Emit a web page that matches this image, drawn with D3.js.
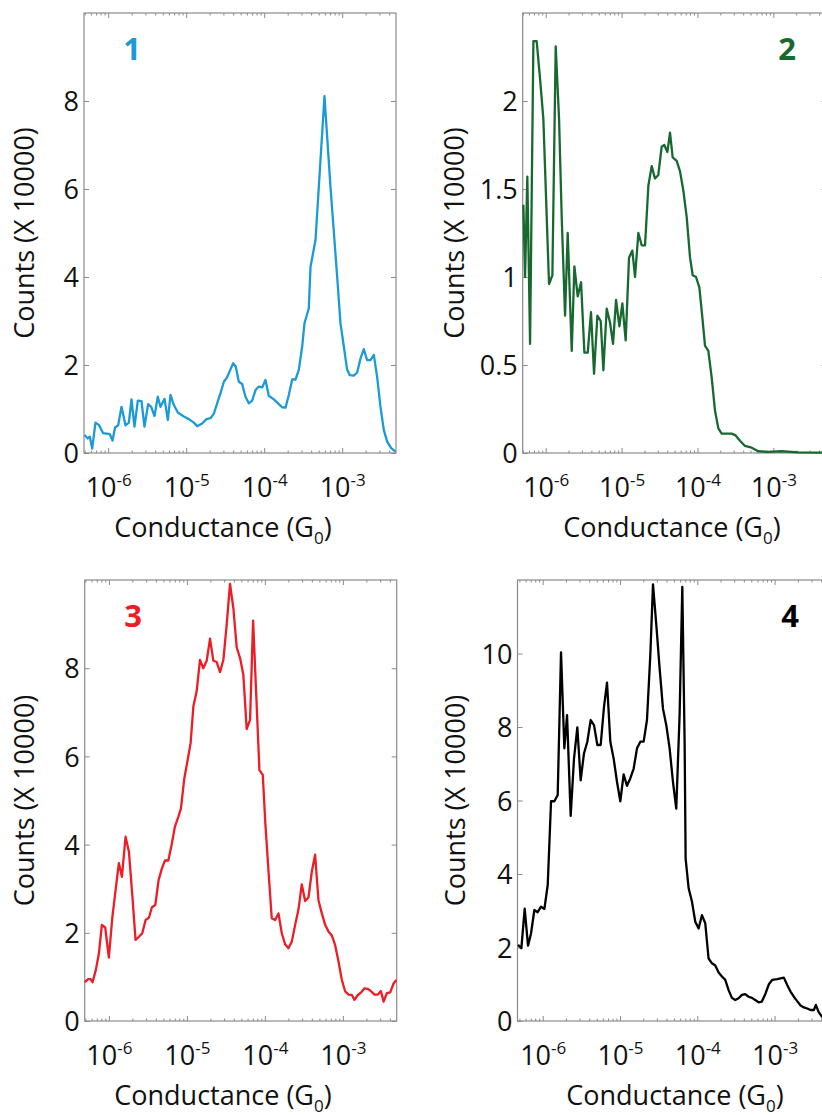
<!DOCTYPE html>
<html>
<head>
<meta charset="utf-8">
<script src="https://cdn.jsdelivr.net/npm/d3@7"></script>
<style>
  body { margin: 0; background: #fff; }
  text { font-family: "Open Sans", sans-serif; }
</style>
</head>
<body>
<script>
// values: log10 of conductance (G0) and counts (x 10000)
var logG1 = [-6.304,-6.261,-6.235,-6.205,-6.163,-6.120,-6.064,-5.979,-5.945,-5.911,
  -5.872,-5.829,-5.778,-5.735,-5.701,-5.663,-5.620,-5.573,-5.535,-5.488,
  -5.449,-5.406,-5.364,-5.329,-5.278,-5.235,-5.201,-5.158,-5.107,-5.030,
  -4.966,-4.902,-4.859,-4.795,-4.740,-4.688,-4.646,-4.603,-4.560,-4.517,
  -4.475,-4.432,-4.398,-4.364,-4.325,-4.282,-4.240,-4.197,-4.154,-4.111,
  -4.069,-4.026,-3.983,-3.941,-3.876,-3.812,-3.770,-3.727,-3.684,-3.641,
  -3.599,-3.556,-3.513,-3.483,-3.428,-3.406,-3.342,-3.227,-3.150,-3.064,
  -3.022,-2.979,-2.936,-2.902,-2.851,-2.808,-2.765,-2.723,-2.680,-2.637,
  -2.594,-2.552,-2.509,-2.466,-2.423,-2.372,-2.316];
var counts1 = [0.41,0.33,0.37,0.10,0.69,0.64,0.45,0.43,0.28,0.58,
  0.63,1.05,0.63,0.69,1.22,0.60,1.19,1.18,0.60,1.11,
  1.05,0.84,1.28,1.05,1.23,0.75,1.32,1.09,0.92,0.83,
  0.77,0.69,0.61,0.67,0.77,0.79,0.89,1.13,1.36,1.62,
  1.72,1.90,2.04,1.96,1.62,1.57,1.28,1.13,1.19,1.43,
  1.51,1.49,1.66,1.30,1.22,1.11,1.04,1.03,1.32,1.67,
  1.67,1.89,2.42,2.95,3.29,4.23,4.84,8.11,6.05,4.00,
  2.95,2.42,1.89,1.77,1.76,1.83,2.15,2.36,2.11,2.11,
  2.23,1.73,1.05,0.52,0.26,0.11,0.03];

var logG2 = [-6.294,-6.272,-6.242,-6.206,-6.162,-6.119,-6.075,-6.031,-5.956,-5.912,
  -5.868,-5.824,-5.789,-5.745,-5.710,-5.657,-5.622,-5.578,-5.534,-5.490,
  -5.446,-5.403,-5.363,-5.319,-5.275,-5.240,-5.196,-5.152,-5.113,-5.073,
  -5.029,-4.990,-4.946,-4.902,-4.858,-4.823,-4.779,-4.735,-4.691,-4.647,
  -4.603,-4.560,-4.516,-4.472,-4.437,-4.397,-4.362,-4.327,-4.274,-4.230,
  -4.186,-4.142,-4.098,-4.063,-4.019,-3.975,-3.936,-3.901,-3.857,-3.813,
  -3.769,-3.725,-3.681,-3.615,-3.549,-3.497,-3.440,-3.374,-3.286,-3.198,
  -3.066,-2.891,-2.671,-2.364,-2.300];
var counts2 = [1.41,1.00,1.57,0.62,2.34,2.34,2.13,1.90,0.96,1.01,
  2.31,1.90,1.34,0.78,1.25,0.58,1.06,0.89,0.97,0.57,
  0.57,0.80,0.45,0.78,0.75,0.47,0.82,0.74,0.62,0.87,
  0.72,0.85,0.64,1.11,1.15,1.00,1.25,1.18,1.18,1.52,
  1.63,1.56,1.58,1.74,1.75,1.71,1.82,1.68,1.66,1.60,
  1.49,1.34,1.11,1.01,1.00,0.94,0.77,0.61,0.58,0.43,
  0.24,0.14,0.11,0.11,0.11,0.10,0.07,0.04,0.03,0.01,
  0.006,0.01,0.004,0.002,0.002];

var logG3 = [-6.308,-6.265,-6.235,-6.210,-6.167,-6.128,-6.090,-6.047,-6.000,-5.957,
  -5.914,-5.872,-5.833,-5.786,-5.743,-5.700,-5.658,-5.615,-5.572,-5.529,
  -5.487,-5.448,-5.405,-5.362,-5.320,-5.281,-5.238,-5.196,-5.153,-5.110,
  -5.076,-5.033,-4.994,-4.952,-4.917,-4.875,-4.832,-4.789,-4.746,-4.703,
  -4.661,-4.618,-4.575,-4.532,-4.490,-4.447,-4.404,-4.361,-4.318,-4.276,
  -4.233,-4.190,-4.151,-4.070,-4.027,-3.993,-3.950,-3.912,-3.869,
  -3.826,-3.783,-3.741,-3.698,-3.655,-3.612,-3.570,-3.527,-3.484,-3.441,
  -3.398,-3.356,-3.313,-3.270,-3.227,-3.185,-3.142,-3.099,-3.056,-3.013,
  -2.970,-2.928,-2.885,-2.851,-2.808,-2.765,-2.722,-2.680,-2.637,-2.594,
  -2.551,-2.513,-2.478,-2.436,-2.393,-2.350,-2.316];
var counts3 = [0.88,0.95,0.95,0.88,1.16,1.53,2.18,2.12,1.44,2.33,
  2.97,3.58,3.27,4.18,3.84,2.86,1.84,1.91,1.99,2.29,
  2.34,2.58,2.63,3.20,3.46,3.64,3.64,3.99,4.41,4.63,
  4.82,5.50,5.88,6.30,7.13,7.47,8.19,8.00,8.17,8.67,
  8.17,8.14,7.91,8.19,8.98,9.91,9.36,8.47,8.23,7.85,
  6.62,6.83,9.08,5.69,5.58,4.45,3.31,2.33,2.29,
  2.44,1.99,1.74,1.65,1.80,2.18,2.52,3.10,2.72,2.80,
  3.39,3.77,2.74,2.44,2.18,2.03,1.94,1.72,1.35,0.93,
  0.67,0.60,0.59,0.48,0.59,0.65,0.74,0.73,0.67,0.60,
  0.60,0.68,0.44,0.63,0.65,0.85,0.93];

var logG4 = [-6.319,-6.276,-6.233,-6.190,-6.151,-6.108,-6.065,-6.022,-5.978,-5.935,
  -5.892,-5.849,-5.806,-5.763,-5.720,-5.685,-5.638,-5.595,-5.552,-5.509,
  -5.466,-5.423,-5.379,-5.336,-5.293,-5.250,-5.207,-5.168,-5.125,-5.082,
  -5.039,-4.996,-4.953,-4.910,-4.867,-4.823,-4.780,-4.737,-4.694,-4.651,
  -4.608,-4.573,-4.530,-4.487,-4.444,-4.401,-4.358,-4.315,-4.272,-4.229,
  -4.194,-4.164,-4.151,-4.112,-4.069,-4.026,-3.983,-3.940,-3.897,-3.854,
  -3.810,-3.767,-3.724,-3.681,-3.638,-3.595,-3.552,-3.509,-3.466,-3.423,
  -3.380,-3.336,-3.293,-3.250,-3.207,-3.164,-3.117,-3.074,-3.031,-2.966,
  -2.880,-2.837,-2.794,-2.751,-2.708,-2.664,-2.621,-2.578,-2.535,-2.492,
  -2.466,-2.431,-2.388,-2.300];
var counts4 = [2.07,1.98,3.06,2.05,2.38,3.02,2.96,3.11,3.05,3.70,
  5.98,5.98,6.15,10.03,7.42,8.32,5.58,7.14,7.99,6.55,
  7.28,7.60,8.19,8.05,7.51,7.51,8.55,9.21,7.60,7.14,
  6.51,5.98,6.71,6.40,6.60,6.87,7.42,7.60,7.60,8.19,
  9.95,11.88,10.77,9.59,8.50,8.05,7.42,6.51,5.78,8.32,
  11.81,7.60,4.42,3.61,3.25,2.70,2.52,2.88,2.66,1.70,
  1.57,1.51,1.32,1.21,1.12,0.84,0.63,0.57,0.62,0.71,
  0.73,0.66,0.63,0.57,0.51,0.53,0.75,1.00,1.12,1.14,
  1.18,0.98,0.80,0.66,0.54,0.42,0.37,0.34,0.30,0.30,
  0.44,0.25,0.12,0.02];

var yTicks1 = [0, 2, 4, 6, 8],
    yTicks2 = [0, 0.5, 1, 1.5, 2],
    yTicks3 = [0, 2, 4, 6, 8],
    yTicks4 = [0, 2, 4, 6, 8, 10];

var panelLabels = ["1", "2", "3", "4"];
var colors = ["#1b9ad6", "#17692f", "#ee1c25", "#000000"];

var panels = [
  {logG: logG1, counts: counts1, yTicks: yTicks1, yMax: 10, xExp: [-6.31, -2.31],
   left: 84, right: 396, top: 13, bottom: 453, numX: 132, yLabX: 34, xTitleX: 223},
  {logG: logG2, counts: counts2, yTicks: yTicks2, yMax: 2.5, xExp: [-6.303, -2.3],
   left: 522.7, right: 826.5, top: 13, bottom: 453, numX: 787, yLabX: 464, xTitleX: 672},
  {logG: logG3, counts: counts3, yTicks: yTicks3, yMax: 10, xExp: [-6.31, -2.31],
   left: 84.7, right: 396.7, top: 580, bottom: 1021, numX: 133, yLabX: 34, xTitleX: 223},
  {logG: logG4, counts: counts4, yTicks: yTicks4, yMax: 12, xExp: [-6.326, -2.3],
   left: 517.5, right: 828.7, top: 580, bottom: 1021, numX: 790, yLabX: 465, xTitleX: 675}
];

var axisColor = "#8a8a8a";

var svg = d3.select("body").append("svg")
    .attr("width", 822)
    .attr("height", 1115);

function isDecade(v) {
  var l = Math.log10(v);
  return Math.abs(l - Math.round(l)) < 1e-9;
}

panels.forEach(function(p, i) {
  var x = d3.scaleLog()
      .domain([Math.pow(10, p.xExp[0]), Math.pow(10, p.xExp[1])])
      .range([p.left, p.right]);
  var y = d3.scaleLinear()
      .domain([0, p.yMax])
      .range([p.bottom, p.top]);

  var xt = x.ticks(),
      major = xt.filter(isDecade),
      minor = xt.filter(function(d) { return !isDecade(d); });

  var g = svg.append("g").attr("class", "panel" + (i + 1));

  function clean(sel) { sel.select(".domain").remove(); sel.attr("color", axisColor); }

  // minor + major ticks, bottom and top, pointing inward
  g.append("g").attr("transform", "translate(0," + p.bottom + ")")
      .call(d3.axisBottom(x).tickValues(minor).tickSize(-2.5).tickFormat(""))
      .call(clean);
  g.append("g").attr("transform", "translate(0," + p.top + ")")
      .call(d3.axisTop(x).tickValues(minor).tickSize(-2.5).tickFormat(""))
      .call(clean);
  g.append("g").attr("transform", "translate(0," + p.top + ")")
      .call(d3.axisTop(x).tickValues(major).tickSize(-5).tickFormat(""))
      .call(clean);

  var xAxis = g.append("g").attr("transform", "translate(0," + p.bottom + ")")
      .call(d3.axisBottom(x).tickValues(major).tickSize(-5).tickFormat(""))
      .call(clean);
  xAxis.selectAll(".tick text").each(function(d) {
    var t = d3.select(this)
        .attr("y", 44).attr("dy", null)
        .attr("fill", "#111")
        .attr("font-family", "Open Sans")
        .attr("font-size", 27)
        .attr("text-anchor", "middle");
    t.text(null);
    t.append("tspan").text("10");
    t.append("tspan").attr("font-size", 17).attr("dy", -11).text(Math.round(Math.log10(d)));
  });

  // y axes left (labelled) and right
  g.append("g").attr("transform", "translate(" + p.left + ",0)")
      .call(d3.axisLeft(y).tickValues(p.yTicks).tickSize(-5).tickPadding(5)
        .tickFormat(function(d) { return String(d); }))
      .call(clean)
      .attr("font-family", "Open Sans")
      .attr("font-size", 27)
      .selectAll(".tick text").attr("fill", "#111").attr("dy", "0.36em");
  g.append("g").attr("transform", "translate(" + p.right + ",0)")
      .call(d3.axisRight(y).tickValues(p.yTicks).tickSize(-5).tickFormat(""))
      .call(clean);

  // frame
  g.append("rect")
      .attr("x", p.left).attr("y", p.top)
      .attr("width", p.right - p.left).attr("height", p.bottom - p.top)
      .attr("fill", "none")
      .attr("stroke", axisColor)
      .attr("stroke-width", 1.2);

  // histogram trace
  var line = d3.line()
      .x(function(d) { return x(Math.pow(10, d[0])); })
      .y(function(d) { return y(d[1]); });
  g.append("path")
      .datum(d3.zip(p.logG, p.counts))
      .attr("d", line)
      .attr("fill", "none")
      .attr("stroke", colors[i])
      .attr("stroke-width", 2.3)
      .attr("stroke-linejoin", "round");

  // panel number
  g.append("text")
      .attr("x", p.numX).attr("y", p.top + 47)
      .attr("text-anchor", "middle")
      .attr("font-size", 31)
      .attr("font-weight", "bold")
      .attr("fill", colors[i])
      .text(panelLabels[i]);

  // axis titles
  g.append("text")
      .attr("transform", "translate(" + p.yLabX + "," + ((p.top + p.bottom) / 2) + ") rotate(-90)")
      .attr("text-anchor", "middle")
      .attr("font-size", 27)
      .attr("fill", "#111")
      .text("Counts (X 10000)");

  var xt2 = g.append("text")
      .attr("x", p.xTitleX).attr("y", p.bottom + 84)
      .attr("text-anchor", "middle")
      .attr("font-size", 27)
      .attr("fill", "#111");
  xt2.append("tspan").text("Conductance (G");
  xt2.append("tspan").attr("font-size", 17).attr("dy", 7).text("0");
  xt2.append("tspan").attr("dy", -7).text(")");
});
</script>
</body>
</html>
